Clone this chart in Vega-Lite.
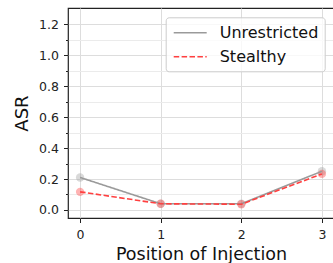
{
  "$schema": "https://vega.github.io/schema/vega-lite/v6.json",
  "autosize": "none",
  "padding": {"left": 68, "top": 8, "right": 0, "bottom": 45},
  "width": 266,
  "height": 210,
  "config": {
    "font": "DejaVu Sans",
    "view": {"stroke": "#222222", "strokeWidth": 1.2},
    "axis": {"domain": false, "labelFont": "DejaVu Sans", "titleFont": "DejaVu Sans", "labelFontSize": 12.5, "labelColor": "#222222", "titleColor": "#111111", "titleFontWeight": "normal", "tickColor": "#222222"}
  },
  "data": {
    "values": [
      {"position": 0, "asr": 0.21, "series": "Unrestricted"},
      {"position": 1, "asr": 0.04, "series": "Unrestricted"},
      {"position": 2, "asr": 0.04, "series": "Unrestricted"},
      {"position": 3, "asr": 0.25, "series": "Unrestricted"},
      {"position": 0, "asr": 0.117, "series": "Stealthy"},
      {"position": 1, "asr": 0.04, "series": "Stealthy"},
      {"position": 2, "asr": 0.037, "series": "Stealthy"},
      {"position": 3, "asr": 0.233, "series": "Stealthy"}
    ]
  },
  "encoding": {
    "x": {
      "field": "position", "type": "quantitative",
      "scale": {"domain": [-0.15, 3.15], "nice": false, "zero": false},
      "axis": {"values": [0, 1, 2, 3], "format": "d", "tickSize": 4.5, "labelPadding": 5.5, "gridColor": "#dddddd", "title": "Position of Injection", "titleFontSize": 17.5, "titlePadding": 5}
    },
    "y": {
      "field": "asr", "type": "quantitative",
      "scale": {"domain": [-0.052, 1.305], "nice": false, "zero": false},
      "axis": {
        "values": [0, 0.1, 0.2, 0.3, 0.4, 0.5, 0.6, 0.7, 0.8, 0.9, 1.0, 1.1, 1.2],
        "labelExpr": "round(datum.value*10) % 2 == 0 ? format(datum.value, '.1f') : ''",
        "tickSize": {"condition": {"test": "round(datum.value*10) % 2 == 0", "value": 4.5}, "value": 2.5},
        "gridColor": {"condition": {"test": "round(datum.value*10) % 2 == 0", "value": "#dddddd"}, "value": "#ebebeb"},
        "labelPadding": 5,
        "title": "ASR", "titleFontSize": 18, "titleX": -46, "titleY": 105, "titleAngle": -90, "titleBaseline": "middle", "titleAlign": "center"
      }
    }
  },
  "layer": [
    {
      "transform": [{"filter": "datum.series == 'Unrestricted'"}],
      "mark": {"type": "point", "filled": true, "size": 70, "opacity": 0.4, "color": "#a0a0a0"}
    },
    {
      "transform": [{"filter": "datum.series == 'Stealthy'"}],
      "mark": {"type": "point", "filled": true, "size": 70, "opacity": 0.4, "color": "#ff4040"}
    },
    {
      "mark": {"type": "line", "strokeWidth": 1.6},
      "encoding": {
        "stroke": {"field": "series", "type": "nominal", "scale": {"domain": ["Unrestricted", "Stealthy"], "range": ["#9a9a9a", "#ff4040"]}, "title": null,
          "legend": {"orient": "none", "legendX": 97.7, "legendY": 9.3, "symbolType": "M-2,0H2", "symbolSize": 272, "symbolStrokeWidth": 1.6, "symbolFillColor": "transparent", "symbolOffset": 9, "labelFontSize": 16, "labelFont": "DejaVu Sans", "labelColor": "#111111", "labelOffset": 20, "rowPadding": 6, "padding": 6, "strokeColor": "#cccccc", "fillColor": "rgba(255,255,255,0.8)", "cornerRadius": 3}},
        "strokeDash": {"field": "series", "type": "nominal", "scale": {"domain": ["Unrestricted", "Stealthy"], "range": [[1, 0], [5.5, 2.4]]}, "title": null}
      }
    }
  ]
}
